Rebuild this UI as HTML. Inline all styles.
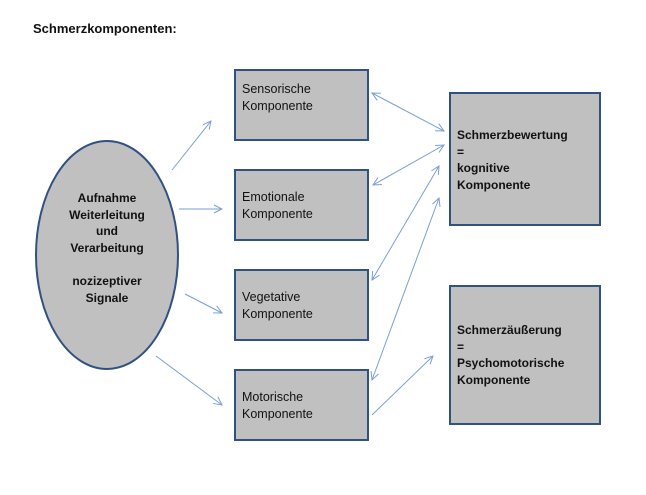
<!DOCTYPE html>
<html><head><meta charset="utf-8"><style>
html,body{margin:0;padding:0;background:#fff;}
svg{display:block;}
text{font-family:"Liberation Sans",sans-serif;font-size:12.5px;fill:#111;}
.b{font-weight:bold;font-size:12px;}
</style></head><body>
<svg width="646" height="495" viewBox="0 0 646 495" xmlns="http://www.w3.org/2000/svg">
<defs>
<marker id="a" markerWidth="10" markerHeight="10" refX="9" refY="5" orient="auto-start-reverse" markerUnits="userSpaceOnUse">
<path d="M1,1 L9,5 L1,9" fill="none" stroke="#7a9fd4" stroke-width="1"/>
</marker>
</defs>
<text x="33" y="33" class="b" style="font-size:13px">Schmerzkomponenten:</text>
<ellipse cx="107" cy="255" rx="71" ry="114" fill="#c0c0c0" stroke="#2f5283" stroke-width="2"/>
<g text-anchor="middle" class="b">
<text x="107" y="202" class="b">Aufnahme</text>
<text x="107" y="219" class="b">Weiterleitung</text>
<text x="107" y="235" class="b">und</text>
<text x="107" y="252" class="b">Verarbeitung</text>
<text x="107" y="285" class="b">nozizeptiver</text>
<text x="107" y="302" class="b">Signale</text>
</g>
<g fill="#c0c0c0" stroke="#2f5283" stroke-width="2">
<rect x="235" y="70" width="133" height="70"/>
<rect x="235" y="170" width="133" height="70"/>
<rect x="235" y="270" width="133" height="70"/>
<rect x="235" y="370" width="133" height="70"/>
<rect x="450" y="93" width="150" height="132"/>
<rect x="450" y="286" width="150" height="138"/>
</g>
<text x="242" y="93">Sensorische</text><text x="242" y="110">Komponente</text>
<text x="242" y="201">Emotionale</text><text x="242" y="218">Komponente</text>
<text x="242" y="301">Vegetative</text><text x="242" y="318">Komponente</text>
<text x="242" y="401">Motorische</text><text x="242" y="418">Komponente</text>
<text x="457" y="139" class="b">Schmerzbewertung</text>
<text x="457" y="156" class="b">=</text>
<text x="457" y="172" class="b">kognitive</text>
<text x="457" y="189" class="b">Komponente</text>
<text x="457" y="334" class="b">Schmerzäußerung</text>
<text x="457" y="351" class="b">=</text>
<text x="457" y="367" class="b">Psychomotorische</text>
<text x="457" y="384" class="b">Komponente</text>
<g stroke="#7a9fd4" stroke-width="1" fill="none">
<line x1="172" y1="170" x2="211" y2="121" marker-end="url(#a)"/>
<line x1="179" y1="209" x2="222" y2="209" marker-end="url(#a)"/>
<line x1="185" y1="294" x2="222" y2="313" marker-end="url(#a)"/>
<line x1="156" y1="356" x2="222" y2="405" marker-end="url(#a)"/>
<line x1="372" y1="93" x2="444" y2="131" marker-start="url(#a)" marker-end="url(#a)"/>
<line x1="373" y1="185" x2="444" y2="145" marker-start="url(#a)" marker-end="url(#a)"/>
<line x1="372" y1="280" x2="439" y2="166" marker-start="url(#a)" marker-end="url(#a)"/>
<line x1="372" y1="380" x2="439" y2="198" marker-start="url(#a)" marker-end="url(#a)"/>
<line x1="372" y1="415" x2="433" y2="356" marker-end="url(#a)"/>
</g>
</svg>
</body></html>
